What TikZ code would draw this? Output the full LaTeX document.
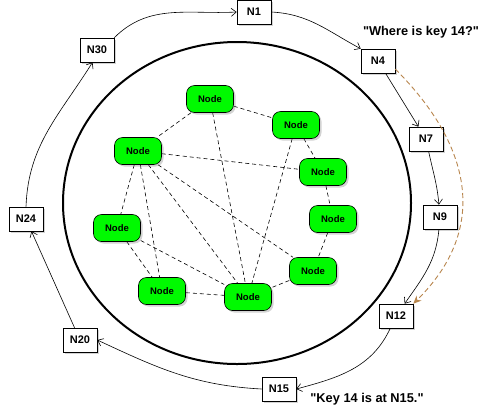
\documentclass[tikz,border=0pt]{standalone}
\usepackage{fontspec}
\setmainfont{Liberation Sans}[Ligatures=TeXOff]
\usepackage{tikz}
\usetikzlibrary{arrows.meta,shadows,backgrounds}
\definecolor{peergreen}{RGB}{0,250,0}
\definecolor{querybrown}{RGB}{184,134,78}
\tikzset{
  ringbox/.style  = {draw, semithick, fill=white, minimum width=34pt,
                     minimum height=24pt, inner sep=0pt,
                     font=\bfseries\fontsize{11}{13}\selectfont,
                     drop shadow={shadow xshift=2pt, shadow yshift=-2pt, opacity=0.35}},
  peer/.style     = {draw, semithick, fill=peergreen, rounded corners=8pt,
                     minimum width=47pt, minimum height=27pt, inner sep=0pt,
                     font=\bfseries\fontsize{9.5}{11}\selectfont,
                     drop shadow={shadow xshift=2pt, shadow yshift=-2pt, opacity=0.35}},
  ringarr/.style  = {-{Straight Barb[length=5pt,width=8pt]}, line width=0.6pt},
  meshln/.style   = {dash pattern=on 4pt off 3pt, line width=0.6pt},
  queryarr/.style = {-{Stealth[length=8pt,width=7pt]}, querybrown, line width=0.9pt,
                     dash pattern=on 5pt off 3pt},
  saying/.style   = {font=\bfseries\fontsize{12.8}{15}\selectfont, inner sep=0pt}
}

\begin{document}
\begin{tikzpicture}[x=1pt,y=1pt]
  \useasboundingbox (0,0) rectangle (481,-408);
  % --- the ring that holds the cluster ------------------------------------
  \draw[line width=2pt] (237,-203) ellipse [x radius=174, y radius=161];
  % --- peers inside, meshed by dashed links --------------------------------
  \node[peer] (p1) at (210,-99)  {Node};
  \node[peer] (p2) at (296,-125) {Node};
  \node[peer] (p3) at (138,-151) {Node};
  \node[peer] (p4) at (323,-172) {Node};
  \node[peer] (p5) at (333,-219) {Node};
  \node[peer] (p6) at (117,-228) {Node};
  \node[peer] (p7) at (313,-271) {Node};
  \node[peer] (p8) at (162,-291) {Node};
  \node[peer] (p9) at (248,-297) {Node};
  \begin{pgfonlayer}{background}
    \foreach \a/\b in {p1/p3, p1/p2, p1/p9, p2/p4, p2/p9, p3/p4, p3/p6, p3/p8,
                       p3/p9, p3/p7, p4/p5, p5/p7, p7/p9, p6/p8, p6/p9, p8/p9}
      \draw[meshln] (\a) -- (\b);
  \end{pgfonlayer}
  % --- the identifier ring ------------------------------------------------
  \node[ringbox] (N1)  at (254,-12)  {N1};
  \node[ringbox] (N4)  at (378,-61)  {N4};
  \node[ringbox] (N7)  at (426,-139) {N7};
  \node[ringbox] (N9)  at (440,-217) {N9};
  \node[ringbox] (N12) at (396,-316) {N12};
  \node[ringbox] (N15) at (279,-389) {N15};
  \node[ringbox] (N20) at (80,-340)  {N20};
  \node[ringbox] (N24) at (26,-219)  {N24};
  \node[ringbox] (N30) at (97,-50)   {N30};
  % successor pointers
  \draw[ringarr] (N30.north east) to[out=45,in=183] (N1.west);
  \draw[ringarr] (N1.east) to[out=-3,in=152] (N4.north west);
  \draw[ringarr] (N4) -- (N7);
  \draw[ringarr] (N7) to[out=-78,in=95] (N9);
  \draw[ringarr] (N9) to[out=-95,in=55] (N12);
  \draw[ringarr] (N12) to[out=-115,in=15] (N15.east);
  \draw[ringarr] (N15.west) to[out=177,in=-25] (N20.east);
  \draw[ringarr] (N20) -- (N24);
  \draw[ringarr] (N24.north) to[out=88,in=-122] (N30.-110);
  % --- the lookup: asked at N4, answered with N15 --------------------------
  \draw[queryarr] (N4.-25) .. controls (476,-150) and (486,-232) .. (N12.north east);
  \node[saying] (ask)    at (421,-32)  {"Where is key 14?"};
  \node[saying] (answer) at (367,-399) {"Key 14 is at N15."};
\end{tikzpicture}
\end{document}
